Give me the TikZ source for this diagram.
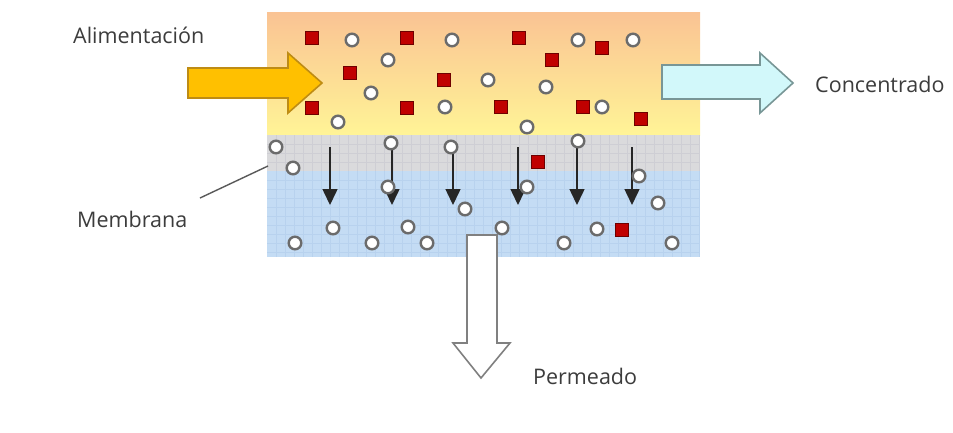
\documentclass[tikz,border=0pt]{standalone}
\usepackage{fontspec}
\setmainfont{Open Sans}
\usetikzlibrary{arrows.meta}
\definecolor{peach}{RGB}{250,195,148}
\definecolor{lemon}{RGB}{255,244,150}
\definecolor{memgray}{RGB}{218,218,220}
\definecolor{memgrid}{RGB}{206,206,212}
\definecolor{permblue}{RGB}{196,220,244}
\definecolor{bluegrid}{RGB}{184,210,238}
\definecolor{feedfill}{RGB}{255,192,0}
\definecolor{feededge}{RGB}{190,140,20}
\definecolor{concfill}{RGB}{210,248,250}
\definecolor{concedge}{RGB}{120,150,150}
\definecolor{txt}{RGB}{60,60,60}
\definecolor{sqfill}{RGB}{192,0,0}
\definecolor{sqedge}{RGB}{110,0,0}
\begin{document}
\begin{tikzpicture}[x=1pt,y=-1pt,
  lbl/.style={text=txt,inner sep=0pt,font=\fontsize{21.5}{24}\selectfont},
  molec/.style={draw=black!58,line width=2.4pt,fill=white},
  salt/.style={draw=sqedge,line width=1pt,fill=sqfill},
  flux/.style={line width=1.5pt,draw=black!85,-{Triangle[width=15pt,length=16pt]}},
  bigarrow/.style={line width=1.6pt,line join=miter}
]
\useasboundingbox (0,0) rectangle (953,432);
% feed channel
\shade[top color=peach,bottom color=lemon] (267,12) rectangle (700,135);
% membrane
\fill[memgray] (267,135) rectangle (700,171);
% permeate
\fill[permblue] (267,171) rectangle (700,257);
\draw[bluegrid,line width=0.5pt] \foreach \gx in {276,285,...,699}{(\gx,171) -- (\gx,257)}
  \foreach \gy in {180,189,...,256}{(267,\gy) -- (700,\gy)};
\draw[memgrid,line width=0.5pt] \foreach \gx in {276,285,...,699}{(\gx,135) -- (\gx,171)}
  \foreach \gy in {144,153,162}{(267,\gy) -- (700,\gy)};
% feed arrow
\draw[bigarrow,draw=feededge,fill=feedfill] (188,68) -- (288,68) -- (288,53) -- (322,83) -- (288,113) -- (288,98) -- (188,98) -- cycle;
% concentrate arrow
\draw[bigarrow,draw=concedge,fill=concfill] (662,65) -- (760,65) -- (760,53) -- (793,83) -- (760,113) -- (760,99) -- (662,99) -- cycle;
% permeate arrow
\draw[bigarrow,draw=black!50,fill=white] (467,235) -- (497,235) -- (497,343) -- (510,343) -- (481,378) -- (453,343) -- (467,343) -- cycle;
% flux arrows
\foreach \i/\ax/\ay in {1/330/147,2/392/143,3/453/147,4/518/147,5/577/142,6/632/147}{
  \coordinate (fs\i) at (\ax,\ay);
  \coordinate (fe\i) at (\ax,205);
  \draw[flux] (fs\i) -- (fe\i);
}
% membrane leader
\coordinate (lead) at (268,166);
\node[lbl,anchor=base west] (memb) at (77,227) {Membrana};
\draw[black!65,line width=1.4pt] (200,198) -- (lead);
% labels
\node[lbl,anchor=base west] (feed) at (73,43) {Alimentación};
\node[lbl,anchor=base west] (conc) at (815,92) {Concentrado};
\node[lbl,anchor=base west] (perm) at (533,384) {Permeado};
% solute particles (squares)
\foreach \sx/\sy in {312/38,407/38,519/38,602/48,552/60,350/73,444/80,312/108,407/108,501/107,583/107,641/119,538/162,622/230}{
  \draw[salt] (\sx-6.5,\sy-6.5) rectangle (\sx+6.5,\sy+6.5);
}
% water particles (circles)
\foreach \cx/\cy in {352/40,452/40,578/40,633/40,388/60,488/80,371/93,546/87,445/107,602/107,338/122,527/127,
  276/147,293/168,391/143,388/187,451/147,527/187,578/141,639/176,
  465/209,658/203,333/228,408/227,502/228,597/229,295/243,372/243,427/243,564/243,672/243}{
  \draw[molec] (\cx,\cy) circle[radius=6.3];
}
\end{tikzpicture}
\end{document}
